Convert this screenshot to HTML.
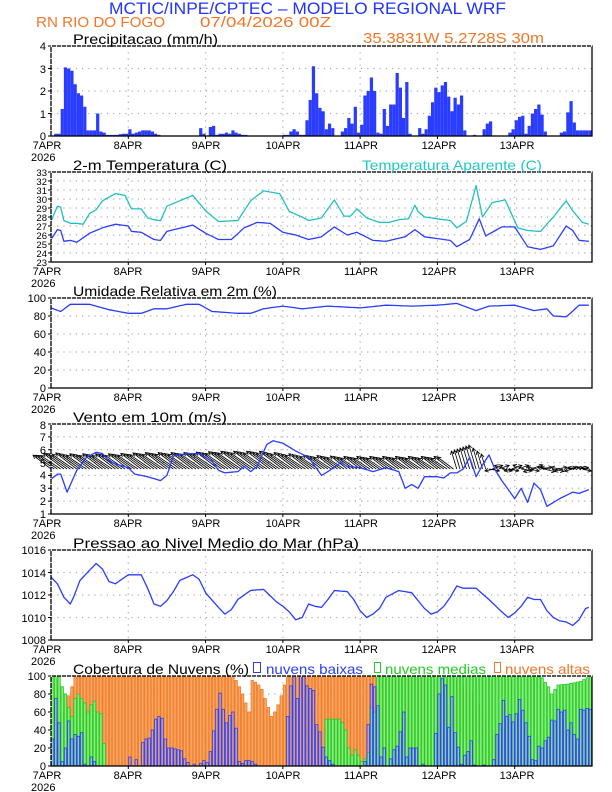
<!DOCTYPE html>
<html><head><meta charset="utf-8"><style>
html,body{margin:0;padding:0;background:#fff;}
svg{display:block;}
text{font-family:"Liberation Sans",sans-serif;}
</style></head><body>
<svg id="s" width="612" height="792" viewBox="0 0 612 792" xmlns="http://www.w3.org/2000/svg">
<g id="grid"></g>
<g id="data"></g>
<g id="frames"></g>
<!-- header -->
<text x="109" y="14" font-size="17" fill="#2233ff" textLength="397" lengthAdjust="spacingAndGlyphs">MCTIC/INPE/CPTEC – MODELO REGIONAL WRF</text>
<text x="36" y="27" font-size="15" fill="#f07828" textLength="129" lengthAdjust="spacingAndGlyphs">RN RIO DO FOGO</text>
<text x="200" y="27" font-size="15" fill="#f07828" textLength="131" lengthAdjust="spacingAndGlyphs">07/04/2026 00Z</text>
<text x="363" y="43" font-size="15" fill="#f07828" textLength="181" lengthAdjust="spacingAndGlyphs">35.3831W 5.2728S 30m</text>
<!-- panel titles -->
<text x="73" y="44" font-size="14" fill="#000" textLength="145" lengthAdjust="spacingAndGlyphs">Precipitacao (mm/h)</text>
<text x="73" y="170" font-size="14" fill="#000" textLength="154" lengthAdjust="spacingAndGlyphs">2-m Temperatura (C)</text>
<text x="362" y="170" font-size="14" fill="#20c8c0" textLength="180" lengthAdjust="spacingAndGlyphs">Temperatura Aparente (C)</text>
<text x="73" y="296" font-size="14" fill="#000" textLength="204" lengthAdjust="spacingAndGlyphs">Umidade Relativa em 2m (%)</text>
<text x="73" y="422" font-size="14" fill="#000" textLength="154" lengthAdjust="spacingAndGlyphs">Vento em 10m (m/s)</text>
<text x="73" y="548" font-size="14" fill="#000" textLength="286" lengthAdjust="spacingAndGlyphs">Pressao ao Nivel Medio do Mar (hPa)</text>
<text x="73" y="674" font-size="14" fill="#000" textLength="176" lengthAdjust="spacingAndGlyphs">Cobertura de Nuvens (%)</text>
<rect x="253.5" y="662.5" width="7" height="10" fill="none" stroke="#2b3cff"/>
<text x="266" y="674" font-size="14" fill="#2b3cff" textLength="97" lengthAdjust="spacingAndGlyphs">nuvens baixas</text>
<rect x="374.5" y="662.5" width="6" height="10" fill="none" stroke="#22cc22"/>
<text x="385" y="674" font-size="14" fill="#22cc22" textLength="101" lengthAdjust="spacingAndGlyphs">nuvens medias</text>
<rect x="494.5" y="662.5" width="6" height="10" fill="none" stroke="#f07828"/>
<text x="505" y="674" font-size="14" fill="#f07828" textLength="85" lengthAdjust="spacingAndGlyphs">nuvens altas</text>

<g font-size="11" fill="#000" text-anchor="middle">
<g><text x="47" y="149">7APR</text><text x="128" y="149">8APR</text><text x="206" y="149">9APR</text><text x="283" y="149">10APR</text><text x="361" y="149">11APR</text><text x="439" y="149">12APR</text><text x="517" y="149">13APR</text></g>
<g transform="translate(0,126)"><text x="47" y="149">7APR</text><text x="128" y="149">8APR</text><text x="206" y="149">9APR</text><text x="283" y="149">10APR</text><text x="361" y="149">11APR</text><text x="439" y="149">12APR</text><text x="517" y="149">13APR</text></g>
<g transform="translate(0,252)"><text x="47" y="149">7APR</text><text x="128" y="149">8APR</text><text x="206" y="149">9APR</text><text x="283" y="149">10APR</text><text x="361" y="149">11APR</text><text x="439" y="149">12APR</text><text x="517" y="149">13APR</text></g>
<g transform="translate(0,378)"><text x="47" y="149">7APR</text><text x="128" y="149">8APR</text><text x="206" y="149">9APR</text><text x="283" y="149">10APR</text><text x="361" y="149">11APR</text><text x="439" y="149">12APR</text><text x="517" y="149">13APR</text></g>
<g transform="translate(0,504)"><text x="47" y="149">7APR</text><text x="128" y="149">8APR</text><text x="206" y="149">9APR</text><text x="283" y="149">10APR</text><text x="361" y="149">11APR</text><text x="439" y="149">12APR</text><text x="517" y="149">13APR</text></g>
<g transform="translate(0,630)"><text x="47" y="149">7APR</text><text x="128" y="149">8APR</text><text x="206" y="149">9APR</text><text x="283" y="149">10APR</text><text x="361" y="149">11APR</text><text x="439" y="149">12APR</text><text x="517" y="149">13APR</text></g>
</g>
<g font-size="11" fill="#000">
<text x="31" y="161">2026</text><text x="31" y="287">2026</text><text x="31" y="413">2026</text><text x="31" y="539">2026</text><text x="31" y="665">2026</text><text x="31" y="791">2026</text>
</g>
<g font-size="11" fill="#000" text-anchor="end">
<text x="46" y="50">4</text><text x="46" y="73">3</text><text x="46" y="95">2</text><text x="46" y="118">1</text><text x="46" y="140">0</text>
</g>
<g font-size="9.5" fill="#000" text-anchor="end">
<text x="47" y="176">33</text><text x="47" y="185">32</text><text x="47" y="194">31</text><text x="47" y="203">30</text><text x="47" y="212">29</text><text x="47" y="221">28</text><text x="47" y="230">27</text><text x="47" y="239">26</text><text x="47" y="248">25</text><text x="47" y="257">24</text><text x="47" y="266">23</text>
</g>
<g font-size="11" fill="#000" text-anchor="end">
<text x="46" y="302">100</text><text x="46" y="320">80</text><text x="46" y="338">60</text><text x="46" y="356">40</text><text x="46" y="374">20</text><text x="46" y="392">0</text>
<text x="46" y="429">8</text><text x="46" y="441">7</text><text x="46" y="454">6</text><text x="46" y="467">5</text><text x="46" y="479">4</text><text x="46" y="492">3</text><text x="46" y="505">2</text><text x="46" y="518">1</text>
<text x="46" y="554">1016</text><text x="46" y="577">1014</text><text x="46" y="599">1012</text><text x="46" y="622">1010</text><text x="46" y="644">1008</text>
<text x="46" y="680">100</text><text x="46" y="698">80</text><text x="46" y="716">60</text><text x="46" y="734">40</text><text x="46" y="752">20</text><text x="46" y="770">0</text>
</g>
</svg>
<script>
(function(){
var NS="http://www.w3.org/2000/svg";
var X0=51,X1=592,HW=(X1-X0)/168,DAY=HW*24;
var grid=document.getElementById('grid'),data=document.getElementById('data'),frames=document.getElementById('frames');
function el(p,tag,a){var e=document.createElementNS(NS,tag);for(var k in a)e.setAttribute(k,a[k]);p.appendChild(e);return e;}
var panels=[[46,136,5],[172,262,11],[298,388,6],[424,514,8],[550,640,5],[676,766,6]];
panels.forEach(function(p){
  var t=p[0],b=p[1],n=p[2];
  for(var i=1;i<n-1;i++){var y=t+(b-t)*i/(n-1);el(grid,'line',{x1:X0,x2:X1,y1:y,y2:y,stroke:'#aaa','stroke-dasharray':'1.2,5','stroke-width':1.2});}
  for(var d=1;d<7;d++){var x=X0+d*DAY;el(grid,'line',{x1:x,x2:x,y1:t,y2:b,stroke:'#aaa','stroke-dasharray':'1.2,5','stroke-width':1.2});
    el(frames,'line',{x1:x,x2:x,y1:b,y2:b+3,stroke:'#000'});}
  el(frames,'rect',{x:X0,y:t,width:X1-X0,height:b-t,fill:'none',stroke:'#000','stroke-width':1.3});
  el(frames,'line',{x1:X0,x2:X1,y1:t,y2:t,stroke:'#fff','stroke-dasharray':'1,4','stroke-width':1.4});
  el(frames,'line',{x1:X0,x2:X0,y1:t,y2:b,stroke:'#fff','stroke-dasharray':'1,5','stroke-width':1.4});
  for(var i=0;i<n;i++){var y=t+(b-t)*i/(n-1);el(frames,'line',{x1:X0-3,x2:X0,y1:y,y2:y,stroke:'#000'});}
});
function interp(kp){var out=[];for(var h=0;h<168;h++){var j=0;while(j<kp.length-2&&kp[j+1][0]<=h)j++;var a=kp[j],b=kp[j+1];var f=(h-a[0])/(b[0]-a[0]);if(f<0)f=0;if(f>1)f=1;out.push(a[1]+(b[1]-a[1])*f);}return out;}
function line(vals,t,b,vmin,vmax,col){var pts=[];for(var h=0;h<168;h++){pts.push((X0+h*HW).toFixed(1)+','+(b-(vals[h]-vmin)/(vmax-vmin)*(b-t)).toFixed(1));}
  el(data,'polyline',{points:pts.join(' '),fill:'none',stroke:col,'stroke-width':1.3,'stroke-linejoin':'round'});}
function sparse(obj,def){var a=[];for(var h=0;h<168;h++)a.push(obj[h]!==undefined?obj[h]:def);return a;}
var pr={1:.1,2:.1,3:1.2,4:3.05,5:3.0,6:2.9,7:2.3,8:1.9,9:1.8,10:1.3,11:.25,12:.25,13:.25,14:1.0,15:.2,16:.15,17:.05,18:.05,19:.05,20:.05,21:.08,22:.1,23:.1,24:.3,25:.1,26:.15,27:.2,28:.25,29:.25,30:.25,31:.2,32:.1,33:.05,46:.35,47:.1,49:.4,50:.45,51:.05,52:.1,53:.1,54:.15,55:.1,56:.25,57:.15,58:.1,59:.05,60:.05,72:.05,73:.05,74:.2,75:.3,76:.2,77:.05,78:.05,79:.7,80:1.6,81:3.1,82:1.9,83:1.25,84:1.1,85:.3,86:.55,87:.35,90:.2,91:.35,92:.8,93:.55,94:1.3,95:.15,96:.5,97:1.8,98:2.0,99:2.6,100:2.0,101:.15,102:.1,103:1.2,104:.45,105:1.4,106:1.4,107:2.8,108:2.15,109:.8,110:2.4,111:.1,114:.35,115:.1,116:.3,117:.9,118:1.5,119:2.15,120:1.95,121:2.25,122:2.4,123:1.75,124:1.1,125:1.7,126:1.4,127:1.8,128:.25,131:.05,134:.3,135:.55,136:.65,142:.15,143:.3,144:.7,145:.85,146:.9,147:.1,148:.45,149:1.0,150:1.2,151:1.4,152:.95,153:.2,158:.15,159:.2,160:1.05,161:1.55,162:.6,163:.25,164:.25,165:.25,166:.25,167:.25};
for(var h in pr){var v=pr[h];var y=136-v/4*90;el(data,'rect',{x:X0+h*HW,y:y,width:HW,height:136-y,fill:'#2a3cff'});}
var tb=interp([[0,25.5],[2,26.6],[3,26.5],[4,25.3],[6,25.4],[8,25.2],[12,26.2],[16,26.8],[20,27.2],[24,27.0],[25,26.4],[28,26.3],[32,25.5],[34,25.4],[36,26.4],[44,27.1],[48,26.2],[52,25.5],[56,25.5],[60,26.8],[64,27.4],[68,27.3],[72,26.3],[76,26.0],[80,25.5],[84,25.8],[88,26.9],[92,26.0],[95,26.3],[100,25.4],[104,25.3],[110,25.8],[113,26.6],[116,25.8],[120,25.6],[124,25.4],[126,24.7],[130,25.5],[133,27.8],[135,25.9],[140,26.9],[144,26.9],[148,24.7],[152,24.4],[156,24.8],[160,27.0],[162,26.5],[164,25.4],[167,25.3]]);
var ta=interp([[0,27.5],[2,29.2],[3,29.1],[4,27.6],[6,27.3],[8,27.3],[10,27.2],[12,28.4],[14,28.8],[16,29.8],[20,30.6],[23,30.4],[25,28.9],[28,28.9],[30,27.9],[32,27.7],[34,27.6],[36,29.2],[40,29.8],[44,30.4],[48,28.7],[52,27.5],[58,27.6],[62,29.8],[66,30.9],[71,30.6],[74,28.6],[78,28.0],[80,27.6],[84,27.9],[88,29.9],[91,28.1],[93,28.1],[95,28.9],[98,27.9],[102,27.4],[105,27.4],[108,27.7],[111,27.8],[113,29.3],[114,28.6],[116,28.0],[120,27.8],[124,27.6],[126,26.8],[129,27.5],[132,31.5],[134,28.0],[137,29.6],[141,29.9],[145,26.8],[148,26.5],[152,26.4],[156,28.0],[160,29.8],[162,28.7],[165,27.4],[167,27.2]]);
line(ta,172,262,23,33,'#22c0c0');line(tb,172,262,23,33,'#2a3cff');
var hu=interp([[0,89],[3,85],[6,93],[12,93],[18,87],[24,83],[28,83],[32,88],[36,88],[42,93],[46,93],[50,85],[58,83],[62,83],[66,88],[72,91],[78,88],[86,91],[96,89],[104,92],[112,91],[120,92],[126,94],[132,86],[136,91],[144,92],[150,86],[154,88],[156,80],[160,79],[164,92],[167,92]]);
line(hu,298,388,0,100,'#2a3cff');
var wv=interp([[0,3.7],[2,4.1],[3,4.1],[5,2.7],[8,4.4],[11,5.4],[14,5.8],[16,5.7],[18,5.1],[20,4.9],[24,4.6],[26,4.1],[30,3.9],[34,3.6],[36,4.0],[38,5.5],[42,5.7],[46,5.7],[50,5.1],[52,4.4],[54,4.2],[58,4.3],[60,4.7],[62,4.3],[64,4.7],[67,6.4],[69,6.7],[72,6.5],[76,5.9],[80,5.4],[84,4.0],[86,4.3],[90,5.0],[92,4.7],[96,4.6],[100,4.3],[104,4.6],[108,4.3],[110,3.0],[112,3.3],[114,3.0],[116,3.9],[120,3.9],[122,3.8],[124,4.2],[126,4.2],[128,4.5],[130,5.4],[132,3.9],[134,4.8],[136,5.6],[138,4.4],[140,3.6],[144,2.2],[146,3.0],[148,1.9],[150,3.4],[152,2.9],[154,1.6],[158,2.2],[162,2.7],[164,2.6],[167,2.9]]);
var by=424+3.5*90/7;
var ws=interp([[0,5],[6,6],[12,5.5],[24,5.5],[36,6],[48,6],[60,6.5],[72,6.5],[84,5],[96,4.5],[108,4.5],[120,4.5],[126,4.5],[132,6],[136,3],[144,3],[150,3.5],[156,3],[167,2.5]]);
for(var h=0;h<168;h++){var x=X0+h*HW,s=ws[h];var dx,dy;
  if(h<126){dx=-3.6*s;dy=-2.6*s+((h%4)-1.5)*0.6;}else if(h<136){dx=-1.2*s;dy=-4*s;}else if(h<150){dx=(h%3?3.5:-3.5)*s;dy=(h%2?-1.2:0.6)*s;}else{dx=(h%4<2?3.5:-3)*s;dy=(h%3?-0.6:0.8)*s;}
  var x2=x+dx,y2=by+dy;el(data,'line',{x1:x,y1:by,x2:x2,y2:y2,stroke:'#000','stroke-width':.8});
  var a=Math.atan2(dy,dx),L=4;
  el(data,'polyline',{points:(x2-L*Math.cos(a-0.5))+','+(y2-L*Math.sin(a-0.5))+' '+x2+','+y2+' '+(x2-L*Math.cos(a+0.5))+','+(y2-L*Math.sin(a+0.5)),fill:'none',stroke:'#000','stroke-width':.8});}
line(wv,424,514,1,8,'#2a3cff');
var ps=interp([[0,1013.6],[2,1013.0],[4,1011.8],[6,1011.2],[7,1011.8],[9,1013.3],[12,1014.2],[14,1014.8],[16,1014.3],[18,1013.2],[20,1013.0],[24,1013.8],[28,1013.8],[30,1012.6],[32,1011.2],[34,1011.0],[36,1011.5],[38,1012.3],[40,1013.3],[44,1013.8],[46,1013.4],[48,1012.2],[52,1010.9],[54,1010.3],[56,1010.7],[58,1011.6],[62,1012.4],[66,1012.5],[70,1011.4],[72,1011.0],[74,1010.5],[76,1009.8],[78,1010.0],[80,1011.2],[82,1011.0],[84,1010.9],[86,1011.6],[88,1012.4],[92,1012.3],[94,1011.6],[96,1010.6],[98,1010.0],[100,1010.3],[102,1010.8],[104,1011.8],[108,1012.4],[112,1012.2],[116,1010.8],[118,1010.3],[120,1010.5],[122,1011.0],[124,1011.8],[126,1012.8],[128,1012.6],[132,1012.6],[136,1011.6],[140,1010.5],[142,1010.0],[144,1010.4],[146,1011.0],[148,1011.8],[150,1011.6],[152,1011.6],[154,1010.6],[156,1010.0],[158,1009.7],[160,1009.6],[162,1009.3],[164,1009.8],[166,1010.8],[167,1010.9]]);
line(ps,550,640,1008,1016,'#2a3cff');
var hi=interp([[0,92],[2,92],[3,60],[4,70],[5,78],[6,88],[7,100],[56,100],[57,95],[58,88],[59,80],[60,70],[61,60],[62,95],[63,93],[64,90],[65,85],[66,75],[67,65],[68,55],[69,60],[70,68],[71,78],[72,90],[73,100],[110,100],[118,95],[126,95],[130,80],[133,65],[136,40],[140,20],[146,10],[167,5]]);
var md=interp([[0,100],[2,100],[3,88],[4,80],[5,65],[6,55],[7,75],[8,80],[9,75],[10,70],[11,60],[12,68],[13,72],[14,60],[15,58],[16,25],[17,0],[84,0],[85,52],[89,52],[90,48],[91,40],[92,20],[93,12],[94,18],[95,12],[96,5],[97,8],[98,15],[99,65],[100,60],[101,100],[150,100],[152,98],[154,88],[155,80],[157,90],[160,91],[164,94],[166,98],[167,100]]);
var lo={0:30,1:75,2:48,3:5,4:20,5:50,6:30,7:35,8:33,9:37,10:2,12:10,13:5,24:10,26:7,28:26,29:30,30:31,31:40,32:52,33:55,34:53,35:30,36:20,37:20,38:19,39:18,40:17,41:8,42:4,44:2,46:3,47:6,48:4,49:16,50:39,51:63,52:81,53:63,54:48,55:56,56:60,57:42,58:5,59:3,60:6,61:6,62:5,63:2,72:0,73:55,74:89,75:100,76:75,77:100,78:100,79:89,80:86,81:84,82:46,83:38,84:21,85:10,86:6,87:2,97:5,98:46,99:91,100:88,101:67,102:10,103:20,105:8,106:18,107:22,108:38,109:60,110:10,111:20,112:20,113:20,115:2,119:36,120:80,121:97,122:90,123:43,124:77,125:37,126:21,127:2,128:12,129:16,130:28,131:1,134:1,137:7,138:35,139:47,140:73,141:55,142:57,143:49,144:58,145:74,146:62,147:48,148:33,149:7,150:6,151:22,152:20,153:28,154:32,155:51,156:50,157:63,158:60,159:62,160:40,161:48,162:35,163:30,164:63,165:62,166:64,167:63};
var B=766;
function bars(vals,fill,stroke){for(var h=0;h<168;h++){var v=vals[h];if(v<=0.5)continue;var y=B-v/100*90;el(data,'rect',{x:(X0+h*HW+0.4).toFixed(2),y:y,width:(HW-0.8).toFixed(2),height:B-y,fill:fill,stroke:stroke,'stroke-width':0.8});}}
bars(hi,'#f8a860','#f07828');
bars(md,'#8cec80','#22cc22');
bars(sparse(lo,0),'rgba(120,140,255,0.25)','#2b3cff');
})();
</script>
</body></html>
